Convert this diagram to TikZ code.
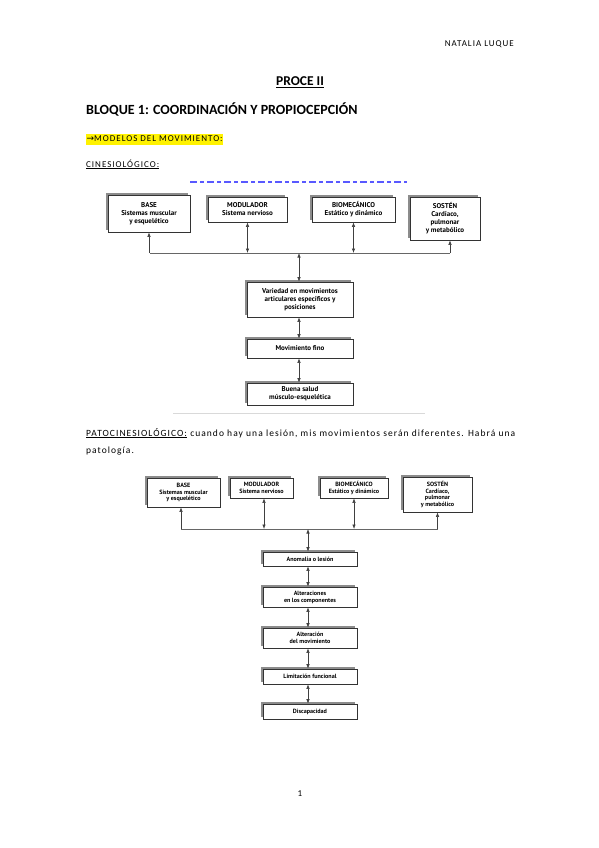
\documentclass[tikz,border=0pt]{standalone}
\usepackage{fontspec}
\setmainfont{Carlito}
\newfontfamily\figfont{PT Sans}
\usetikzlibrary{arrows.meta}
\usetikzlibrary{shadows}
\tikzset{caja/.style={draw=black!80,fill=white,line width=0.6pt,align=center,inner sep=1pt,text=black,
  copy shadow={shadow xshift=-2pt,shadow yshift=2pt,fill=black!45,draw=none}}}
\tikzset{g/.style={font=\figfont\bfseries\fontsize{7}{8}\selectfont}}
\tikzset{p/.style={font=\figfont\bfseries\fontsize{6.1}{6.9}\selectfont}}
\tikzset{flecha/.style={draw=black!75,line width=0.55pt,>={Latex[length=4.5pt,width=3.4pt]}}}
\tikzset{bus/.style={draw=black!60,line width=0.8pt}}
\tikzset{txt/.style={inner sep=0pt,anchor=base west}}
\newcommand{\esp}{\addfontfeature{LetterSpace=11}}

\begin{document}
\begin{tikzpicture}[x=1pt,y=-1pt]
  \useasboundingbox[fill=white] (0,0) rectangle (599,848);
  % cabecera y titulos
  \node[inner sep=0pt,anchor=base east,font=\fontsize{9}{10}\selectfont\esp] (autora) at (514,47) {NATALIA LUQUE};
  \node[inner sep=0pt,anchor=base,font=\bfseries\fontsize{13.5}{14}\selectfont] (titulo) at (300,86) {\underline{PROCE II}};
  \node[txt,font=\bfseries\fontsize{14}{15}\selectfont] (bloque) at (86,115) {BLOQUE 1: COORDINACIÓN Y PROPIOCEPCIÓN};
  \node[txt,fill=yellow,inner xsep=0.5pt,inner ysep=2.5pt,font=\fontsize{9}{10}\selectfont\esp] (modelos) at (86,142) {\fontspec{DejaVu Sans}\fontsize{9}{10}\selectfont→\fontspec{Carlito}\fontsize{9}{10}\selectfont\esp MODELOS DEL MOVIMIENTO:};
  \node[txt,font=\fontsize{9}{10}\selectfont\esp] (cinesio) at (86,167) {\underline{CINESIOLÓGICO:}};
  % modelo cinesiologico
  \draw[draw=blue!65,line width=2pt,dash pattern=on 7pt off 3pt on 4pt off 3pt] (190,182) -- (407,182);
  \node[caja,g,minimum width=82pt,minimum height=37pt] (base1) at (149,213.5) {BASE\\Sistemas muscular\\y esquelético};
  \node[caja,g,minimum width=79pt,minimum height=25pt] (mod1) at (247.5,209.5) {MODULADOR\\Sistema nervioso};
  \node[caja,g,minimum width=83pt,minimum height=25pt] (bio1) at (353.5,209.5) {BIOMECÁNICO\\Estático y dinámico};
  \node[caja,g,minimum width=70pt,minimum height=43pt] (sos1) at (445,218.5) {SOSTÉN\\Cardíaco,\\pulmonar\\y metabólico};
  \coordinate (bus1) at (299,253);
  \draw[bus] (150,253) -- (450,253);
  \draw[flecha,->] (base1.south |- bus1) -- (base1.south);
  \draw[flecha,<->] (mod1.south) -- (mod1.south |- bus1);
  \draw[flecha,<->] (bio1.south) -- (bio1.south |- bus1);
  \draw[flecha,->] ([xshift=5pt]sos1.south |- bus1) -- ([xshift=5pt]sos1.south);
  \node[caja,g,minimum width=106pt,minimum height=35pt] (var1) at (300,299.5) {Variedad en movimientos\\articulares específicos y\\posiciones};
  \node[caja,g,minimum width=106pt,minimum height=19pt] (fino1) at (300,348.5) {Movimiento fino};
  \node[caja,g,minimum width=106pt,minimum height=22pt] (salud1) at (300,394) {Buena salud\\músculo-esquelética};
  \draw[flecha,<->] (bus1) -- (var1.north -| bus1);
  \draw[flecha,<->] (var1.south -| bus1) -- (fino1.north -| bus1);
  \draw[flecha,<->] (fino1.south -| bus1) -- (salud1.north -| bus1);
  \draw[black!15,line width=0.8pt] (173,413) -- (425,413);
  % patocinesiologico
  \node[txt,font=\fontsize{9.5}{17}\selectfont\esp] (pato1) at (86,436) {\makebox[429pt][s]{\underline{PATOCINESIOLÓGICO:} cuando hay una lesión, mis movimientos serán diferentes. Habrá una}};
  \node[txt,font=\fontsize{9.5}{17}\selectfont\esp] (pato2) at (86,453) {patología.};
  \node[caja,p,minimum width=73pt,minimum height=29pt] (base2) at (183.5,492.5) {BASE\\Sistemas muscular\\y esquelético};
  \node[caja,p,minimum width=63pt,minimum height=20pt] (mod2) at (261.5,488) {MODULADOR\\Sistema nervioso};
  \node[caja,p,minimum width=68pt,minimum height=20pt] (bio2) at (354,488) {BIOMECÁNICO\\Estático y dinámico};
  \node[caja,p,minimum width=69pt,minimum height=35pt] (sos2) at (437.5,494.5) {SOSTÉN\\Cardíaco,\\pulmonar\\y metabólico};
  \coordinate (bus2) at (308,529);
  \draw[bus] (181,529) -- (438,529);
  \draw[flecha,->] ([xshift=-2.5pt]base2.south |- bus2) -- ([xshift=-2.5pt]base2.south);
  \draw[flecha,<->] ([xshift=2.5pt]mod2.south) -- ([xshift=2.5pt]mod2.south |- bus2);
  \draw[flecha,<->] (bio2.south) -- (bio2.south |- bus2);
  \draw[flecha,->] (sos2.south |- bus2) -- (sos2.south);
  \node[caja,p,minimum width=94pt,minimum height=14pt] (anom2) at (310,559) {Anomalía o lesión};
  \node[caja,p,minimum width=94pt,minimum height=20pt] (altc2) at (310,597) {Alteraciones\\en los componentes};
  \node[caja,p,minimum width=94pt,minimum height=20pt] (altm2) at (310,638) {Alteración\\del movimiento};
  \node[caja,p,minimum width=94pt,minimum height=15pt] (lim2) at (310,676.5) {Limitación funcional};
  \node[caja,p,minimum width=94pt,minimum height=15pt] (disc2) at (310,711.5) {Discapacidad};
  \draw[flecha,<->] (bus2) -- (anom2.north -| bus2);
  \draw[flecha,<->] (anom2.south -| bus2) -- (altc2.north -| bus2);
  \draw[flecha,<->] (altc2.south -| bus2) -- (altm2.north -| bus2);
  \draw[flecha,<->] (altm2.south -| bus2) -- (lim2.north -| bus2);
  \draw[flecha,<->] (lim2.south -| bus2) -- (disc2.north -| bus2);
  % pie
  \node[inner sep=0pt,anchor=base,font=\fontsize{9}{10}\selectfont] (pagina) at (300,796) {1};
\end{tikzpicture}
\end{document}
